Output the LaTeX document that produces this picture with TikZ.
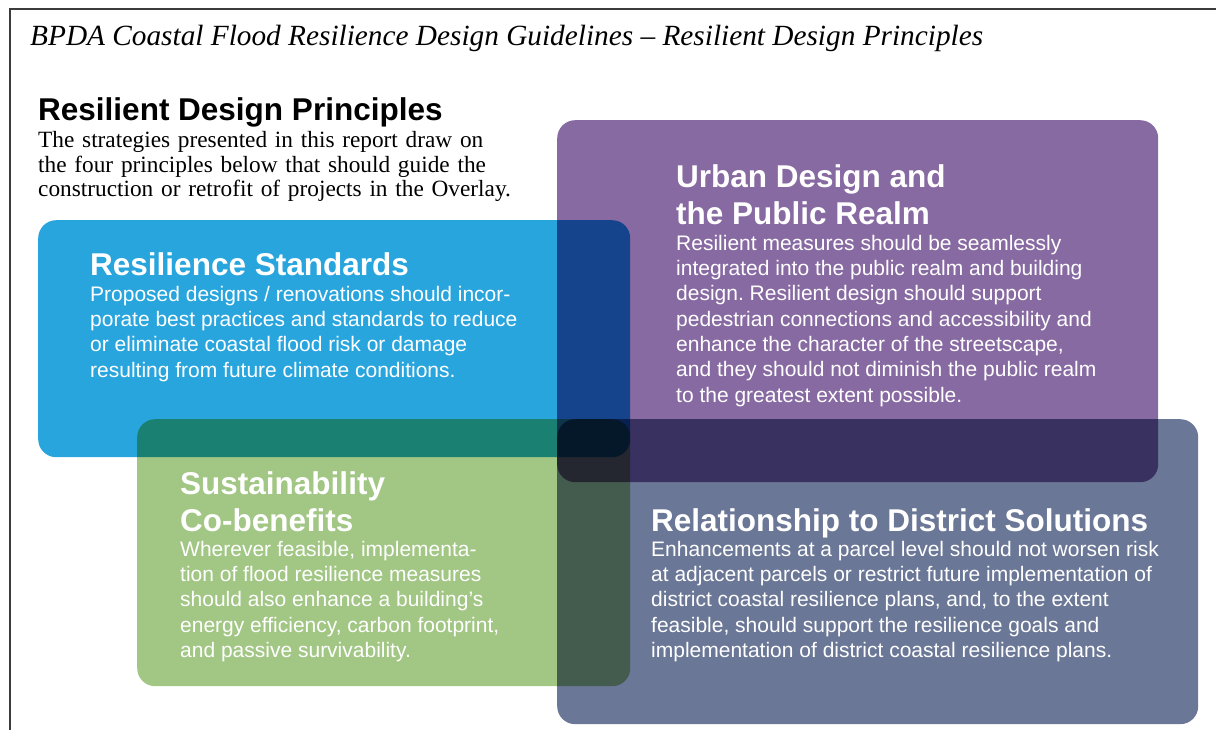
\documentclass[tikz,border=0pt]{standalone}
\usepackage{fontspec}
\setmainfont{Liberation Serif}
\newfontfamily\boxfont{Liberation Sans}
\usetikzlibrary{positioning}
\definecolor{stdblue}{RGB}{41,165,222}
\definecolor{urbpurple}{RGB}{136,106,162}
\definecolor{susgreen}{RGB}{162,198,132}
\definecolor{disslate}{RGB}{107,119,150}
\definecolor{framegray}{RGB}{60,60,60}
\frenchspacing
\newcommand{\headsize}{\fontsize{31.5}{37}\selectfont\bfseries\spaceskip=0pt\xspaceskip=0pt\relax}
\newcommand{\bodysize}{\fontsize{21}{25.3}\selectfont\mdseries\spaceskip=0pt\xspaceskip=0pt\relax}

\begin{document}
\begin{tikzpicture}[x=1pt,y=-1pt,font=\boxfont]
\tikzstyle{box}=[rounded corners=18pt,anchor=north west,inner sep=0pt,blend mode=multiply]
\tikzstyle{txt}=[anchor=base west,inner sep=0pt,align=left,text=white,text width=580pt]
\useasboundingbox (0,0) rectangle (1216,730);
\coordinate (fbot) at (10,730);
\coordinate (fcorner) at (10,9);
\coordinate (fright) at (1216,9);
\draw[framegray,line width=1.8pt] (fbot)--(fcorner)--(fright);
\node[anchor=base west,inner sep=0pt,font=\rmfamily\itshape\fontsize{29.3}{34}\selectfont] (title) at (30,46)
  {BPDA Coastal Flood Resilience Design Guidelines – Resilient Design Principles};
\node[anchor=base west,inner sep=0pt,font=\boxfont\fontsize{31.5}{35}\selectfont\bfseries] (head) at (38,121)
  {Resilient Design Principles};
\node[anchor=base west,inner sep=0pt,align=left,text width=520pt,font=\rmfamily\fontsize{23.3}{24.5}\selectfont] (intro) at (38,148)
  {The strategies presented in this report draw on\\
   the four principles below that should guide the\\
   construction or retrofit of projects in the Overlay.\par};
\node[box,fill=stdblue,minimum width=592pt,minimum height=237pt] (std) at (38,220) {};
\node[box,fill=urbpurple,minimum width=601pt,minimum height=362pt] (urb) at (557,120) {};
\node[box,fill=susgreen,minimum width=493pt,minimum height=267pt] (sus) at (137,419) {};
\node[box,fill=disslate,minimum width=641pt,minimum height=305pt] (dis) at (557,419) {};
\node[txt] (stdtxt) at (90,276)
  {\headsize Resilience Standards\par
   \bodysize Proposed designs / renovations should incor-\\
   porate best practices and standards to reduce\\
   or eliminate coastal flood risk or damage\\
   resulting from future climate conditions.\par};
\node[txt] (urbtxt) at (676,188)
  {\headsize Urban Design and\\ the Public Realm\par
   \bodysize Resilient measures should be seamlessly\\
   integrated into the public realm and building\\
   design. Resilient design should support\\
   pedestrian connections and accessibility and\\
   enhance the character of the streetscape,\\
   and they should not diminish the public realm\\
   to the greatest extent possible.\par};
\node[txt] (sustxt) at (180,494)
  {\headsize Sustainability\\ Co-benefits\par
   \bodysize Wherever feasible, implementa-\\
   tion of flood resilience measures\\
   should also enhance a building’s\\
   energy efficiency, carbon footprint,\\
   and passive survivability.\par};
\node[txt] (distxt) at (651,531)
  {\headsize Relationship to District Solutions\par
   \bodysize Enhancements at a parcel level should not worsen risk\\
   at adjacent parcels or restrict future implementation of\\
   district coastal resilience plans, and, to the extent\\
   feasible, should support the resilience goals and\\
   implementation of district coastal resilience plans.\par};
\end{tikzpicture}
\end{document}
